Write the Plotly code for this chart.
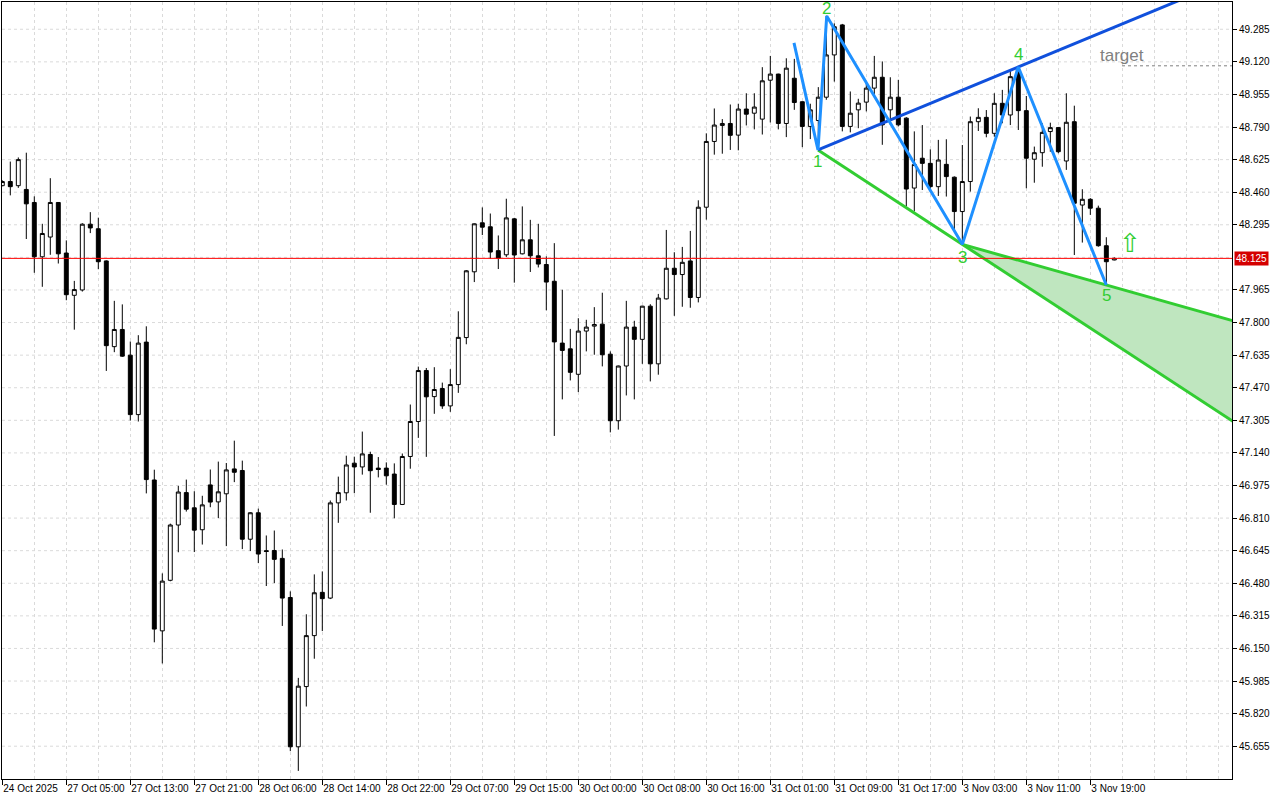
import plotly.graph_objects as go

# ---------------- data ----------------
x_labels = ["24 Oct 2025", "27 Oct 05:00", "27 Oct 13:00", "27 Oct 21:00", "28 Oct 06:00",
            "28 Oct 14:00", "28 Oct 22:00", "29 Oct 07:00", "29 Oct 15:00", "30 Oct 00:00",
            "30 Oct 08:00", "30 Oct 16:00", "31 Oct 01:00", "31 Oct 09:00", "31 Oct 17:00",
            "3 Nov 03:00", "3 Nov 11:00", "3 Nov 19:00"]
x_label_bars = [0, 8, 16, 24, 32, 40, 48, 56, 64, 72, 80, 88, 96, 104, 112, 120, 128, 136]

opens = [48.493, 48.514, 48.493, 48.474, 48.408, 48.133, 48.233, 48.408, 48.152, 47.938,
         47.965, 48.298, 48.275, 48.112, 47.678, 47.765, 47.635, 47.334, 47.701, 47.003,
         46.239, 46.495, 46.775, 46.939, 46.862, 46.751, 46.978, 46.892, 46.933, 47.059,
         47.051, 46.703, 46.837, 46.645, 46.646, 46.606, 46.408, 45.652, 45.957, 46.215,
         46.434, 46.405, 46.887, 46.938, 47.088, 47.069, 47.132, 47.063, 47.063, 47.033,
         46.879, 47.122, 47.299, 47.557, 47.425, 47.466, 47.378, 47.486, 47.724, 48.057,
         48.305, 48.285, 48.164, 48.143, 48.325, 48.148, 48.219, 48.138, 48.094, 48.009,
         47.696, 47.667, 47.538, 47.757, 47.782, 47.792, 47.640, 47.303, 47.580, 47.777,
         47.715, 47.883, 47.591, 47.920, 48.075, 48.043, 48.112, 47.927, 48.384, 48.717,
         48.798, 48.808, 48.749, 48.881, 48.860, 48.830, 49.027, 49.058, 48.808, 49.037,
         48.918, 48.793, 48.823, 48.941, 49.155, 49.307, 48.793, 48.877, 48.916, 48.987,
         49.042, 48.877, 48.941, 48.835, 48.481, 48.632, 48.606, 48.488, 48.601, 48.536,
         48.362, 48.514, 48.817, 48.839, 48.758, 48.910, 48.851, 49.079, 48.873, 48.627,
         48.660, 48.767, 48.787, 48.618, 48.817, 48.395, 48.424, 48.379, 48.189, 48.117]
highs = [48.520, 48.615, 48.636, 48.660, 48.439, 48.300, 48.531, 48.410, 48.216, 48.011,
         48.303, 48.359, 48.331, 48.115, 47.910, 47.892, 47.704, 47.736, 47.781, 47.055,
         46.530, 46.782, 46.973, 47.005, 46.946, 46.923, 47.056, 47.096, 47.089, 47.202,
         47.101, 46.840, 46.858, 46.722, 46.747, 46.651, 46.439, 46.001, 46.323, 46.525,
         46.540, 46.899, 47.020, 47.126, 47.121, 47.248, 47.146, 47.119, 47.092, 47.087,
         47.137, 47.385, 47.577, 47.570, 47.574, 47.496, 47.564, 47.857, 48.066, 48.302,
         48.383, 48.352, 48.241, 48.427, 48.330, 48.388, 48.320, 48.300, 48.135, 48.202,
         47.966, 47.768, 47.822, 47.814, 47.878, 47.951, 47.654, 47.582, 47.910, 47.809,
         47.885, 47.893, 47.945, 48.269, 48.156, 48.183, 48.264, 48.419, 48.758, 48.884,
         48.830, 48.904, 48.908, 48.961, 48.961, 49.093, 49.150, 49.060, 49.138, 49.135,
         48.920, 48.908, 48.992, 49.354, 49.315, 49.312, 48.970, 48.933, 49.020, 49.150,
         49.122, 49.042, 49.029, 48.840, 48.768, 48.800, 48.677, 48.725, 48.728, 48.540,
         48.699, 48.843, 48.885, 48.876, 48.961, 48.978, 49.079, 49.094, 48.947, 48.691,
         48.809, 48.812, 48.790, 48.961, 48.898, 48.475, 48.430, 48.392, 48.232, 48.130]
lows = [48.490, 48.444, 48.482, 48.223, 48.052, 47.981, 48.143, 48.099, 47.913, 47.764,
        47.957, 48.253, 48.070, 47.555, 47.650, 47.626, 47.304, 47.299, 46.935, 46.181,
        46.074, 46.490, 46.637, 46.843, 46.638, 46.676, 46.865, 46.810, 46.668, 46.992,
        46.653, 46.643, 46.582, 46.466, 46.481, 46.264, 45.630, 45.530, 45.856, 46.098,
        46.238, 46.400, 46.786, 46.899, 46.936, 47.030, 46.837, 47.016, 46.979, 46.809,
        46.876, 47.060, 47.216, 47.120, 47.338, 47.363, 47.348, 47.444, 47.690, 48.005,
        48.243, 48.123, 48.071, 48.132, 48.002, 48.145, 48.056, 48.079, 47.862, 47.226,
        47.411, 47.507, 47.448, 47.654, 47.637, 47.578, 47.244, 47.258, 47.431, 47.411,
        47.591, 47.502, 47.536, 47.917, 47.834, 47.880, 47.875, 47.902, 48.321, 48.650,
        48.655, 48.674, 48.672, 48.798, 48.778, 48.752, 48.813, 48.778, 48.739, 48.877,
        48.688, 48.729, 48.675, 48.928, 49.020, 48.768, 48.763, 48.784, 48.869, 48.945,
        48.700, 48.801, 48.793, 48.388, 48.363, 48.471, 48.468, 48.441, 48.438, 48.269,
        48.196, 48.463, 48.770, 48.738, 48.741, 48.809, 48.800, 48.775, 48.480, 48.508,
        48.589, 48.665, 48.657, 48.573, 48.142, 48.205, 48.345, 48.184, 47.990, 48.115]
closes = [48.514, 48.488, 48.625, 48.401, 48.133, 48.251, 48.408, 48.148, 47.941, 47.967,
          48.298, 48.279, 48.108, 47.683, 47.765, 47.630, 47.334, 47.696, 47.005, 46.248,
          46.491, 46.775, 46.942, 46.855, 46.749, 46.877, 46.891, 46.943, 47.054, 47.042,
          46.703, 46.837, 46.628, 46.641, 46.601, 46.405, 45.652, 45.959, 46.215, 46.432,
          46.402, 46.887, 46.939, 47.079, 47.069, 47.135, 47.050, 47.056, 47.024, 46.879,
          47.122, 47.299, 47.557, 47.424, 47.461, 47.378, 47.486, 47.725, 48.062, 48.300,
          48.283, 48.157, 48.126, 48.330, 48.142, 48.219, 48.138, 48.096, 48.005, 47.702,
          47.659, 47.548, 47.757, 47.777, 47.790, 47.637, 47.303, 47.580, 47.777, 47.715,
          47.883, 47.591, 47.924, 48.075, 48.043, 48.105, 47.927, 48.384, 48.717, 48.800,
          48.808, 48.748, 48.881, 48.855, 48.891, 49.024, 49.058, 48.808, 49.088, 48.914,
          48.793, 48.877, 48.941, 49.155, 49.298, 48.793, 48.860, 48.911, 48.987, 49.042,
          48.801, 48.941, 48.801, 48.476, 48.600, 48.606, 48.488, 48.623, 48.539, 48.362,
          48.514, 48.817, 48.839, 48.758, 48.910, 48.851, 49.045, 48.873, 48.632, 48.660,
          48.763, 48.787, 48.665, 48.814, 48.404, 48.424, 48.379, 48.189, 48.108, 48.125]
bars = list(range(len(opens)))

# Wolfe wave pivots: start, 1, 2, 3, 4, 5
wave_bars = [98.96, 101.96, 103.05, 120.0, 127.0, 138.0]
wave_prices = [49.216, 48.674, 49.352, 48.196, 49.094, 47.99]
wave_labels = ["1", "2", "3", "4", "5"]
wave_label_shift = [-12, 8, -13, 12, -10]

current_price = 48.125
target_price = 49.10
target_bar = 139.96
arrow_bar = 141.0
arrow_price = 48.205

y_ticks = [round(45.655 + 0.165 * i, 3) for i in range(23)]
y_ticks = [v for v in y_ticks if abs(v - 48.130) > 1e-6]
grid_y = [round(45.655 + 0.165 * i, 3) for i in range(23)]

# axis ranges (pixel-matched)
x_min, x_max = -0.0375, 153.71
y_min, y_max = 45.489, 49.423

GREEN = "#32CD32"
LBLUE = "#1E90FF"
DBLUE = "#1050DC"
FONT = "Liberation Sans"


def extend(p, q, xe):
    slope = (q[1] - p[1]) / (q[0] - p[0])
    return p[1] + slope * (xe - p[0])


P = list(zip(wave_bars, wave_prices))
p1, p2, p3, p4, p5 = P[1], P[2], P[3], P[4], P[5]
xe = x_max + 1

fig = go.Figure()

# triangle fill between 1-3 and 3-5 extensions
fig.add_trace(go.Scatter(
    x=[p3[0], xe, xe, p3[0]],
    y=[p3[1], extend(p3, p5, xe), extend(p1, p3, xe), p3[1]],
    fill="toself", fillcolor="#BFE6BF", line=dict(width=0), mode="lines",
    hoverinfo="skip", showlegend=False))

fig.add_trace(go.Candlestick(
    x=bars, open=opens, high=highs, low=lows, close=closes,
    increasing=dict(fillcolor="white", line=dict(color="black", width=1)),
    decreasing=dict(fillcolor="black", line=dict(color="black", width=1)),
    whiskerwidth=0, showlegend=False))

# green lines
fig.add_trace(go.Scatter(x=[p1[0], xe], y=[p1[1], extend(p1, p3, xe)], mode="lines",
                         line=dict(color=GREEN, width=3), showlegend=False, hoverinfo="skip"))
fig.add_trace(go.Scatter(x=[p3[0], xe], y=[p3[1], extend(p3, p5, xe)], mode="lines",
                         line=dict(color=GREEN, width=3), showlegend=False, hoverinfo="skip"))
# dark blue 1-4 line
fig.add_trace(go.Scatter(x=[p1[0], xe], y=[p1[1], extend(p1, p4, xe)], mode="lines",
                         line=dict(color=DBLUE, width=3), showlegend=False, hoverinfo="skip"))
# zigzag
fig.add_trace(go.Scatter(x=wave_bars, y=wave_prices, mode="lines",
                         line=dict(color=LBLUE, width=3), showlegend=False, hoverinfo="skip"))
# target dotted line
fig.add_trace(go.Scatter(x=[target_bar, xe], y=[target_price, target_price], mode="lines",
                         line=dict(color="#808080", width=1, dash="dot"),
                         showlegend=False, hoverinfo="skip"))

# current price line
fig.add_shape(type="line", xref="paper", x0=0, x1=1, yref="y", y0=current_price, y1=current_price,
              line=dict(color="#FF0000", width=1))

annotations = []
for lab, (bx, py), ys in zip(wave_labels, P[1:], wave_label_shift):
    annotations.append(dict(x=bx, y=py, text=lab, showarrow=False, yshift=ys,
                            font=dict(family=FONT, size=17, color=GREEN)))
annotations.append(dict(x=target_bar, y=target_price, text="target", showarrow=False, yshift=10,
                        font=dict(family=FONT, size=17, color="#808080")))
annotations.append(dict(x=arrow_bar, y=arrow_price, text="⇧", showarrow=False,
                        font=dict(family="DejaVu Sans", size=26, color=GREEN)))
annotations.append(dict(xref="paper", x=1, xanchor="left", xshift=2, y=current_price,
                        text="48.125", showarrow=False, bgcolor="#D40000", borderpad=1,
                        font=dict(family=FONT, size=10, color="white")))

fig.update_layout(
    width=1280, height=800,
    margin=dict(l=2, r=48, t=2, b=21, autoexpand=False),
    paper_bgcolor="white", plot_bgcolor="white",
    annotations=annotations,
    showlegend=False,
    xaxis=dict(
        range=[x_min, x_max], rangeslider=dict(visible=False),
        tickmode="array", tickvals=x_label_bars, ticktext=x_labels, tickangle=0,
        ticks="outside", ticklen=5, tickcolor="black", ticklabelposition="outside right",
        tickfont=dict(family=FONT, size=10, color="black"),
        showgrid=True, gridcolor="#DADADA", griddash="3px,3px", gridwidth=1,
        minor=dict(dtick=4, tick0=0, showgrid=True, gridcolor="#DADADA", griddash="3px,3px",
                   ticks=""),
        showline=True, linecolor="black", linewidth=1, mirror=True, zeroline=False,
        automargin=False),
    yaxis=dict(
        range=[y_min, y_max], side="right",
        tickmode="array", tickvals=y_ticks, tickformat=".3f",
        ticks="outside", ticklen=4, tickcolor="black",
        tickfont=dict(family=FONT, size=10, color="black"),
        showgrid=False,
        showline=True, linecolor="black", linewidth=1, mirror=True, zeroline=False,
        automargin=False),
)

# horizontal grid lines (incl. hidden 48.130 level)
for gy in grid_y:
    fig.add_shape(type="line", xref="paper", x0=0, x1=1, yref="y", y0=gy, y1=gy,
                  line=dict(color="#DADADA", width=1, dash="3px,3px"), layer="below")

fig.write_html("out.html", config={"displayModeBar": False},
               post_script="document.body.style.margin='0';document.body.style.overflow='hidden';")
